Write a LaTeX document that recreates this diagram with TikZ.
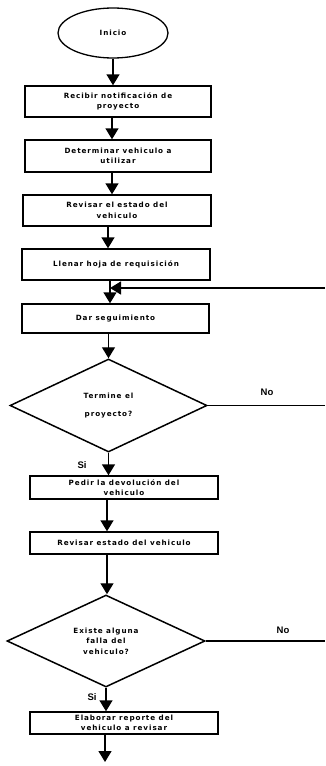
\documentclass[tikz,border=0pt]{standalone}
\usepackage{fontspec}
\setmainfont{Liberation Sans}
\newfontfamily\boxfont{DejaVu Sans}[LetterSpace=13]
\usetikzlibrary{shapes.geometric,arrows.meta}

\tikzset{
  txt/.style={font=\boxfont\bfseries\fontsize{7.2}{10.5}\selectfont},
  stepbox/.style={draw, rectangle, line width=1.4pt, align=center, inner sep=0pt, txt},
  startnode/.style={draw, ellipse, line width=1.3pt, inner sep=0pt,
    minimum width=110pt, minimum height=50pt, txt},
  decision/.style={draw, diamond, line width=1.5pt, align=center, inner sep=0pt, txt},
  flow/.style={line width=1.4pt, -{Triangle[length=11pt,width=13pt]}},
  plain/.style={line width=1.4pt},
  tag/.style={font=\bfseries\fontsize{9.5}{10}\selectfont, inner sep=0pt}
}

\begin{document}
\begin{tikzpicture}[x=1pt,y=-1pt]
\useasboundingbox (0,0) rectangle (325,766);

% start
\node[startnode] (ini) at (113,33) {Inicio};

% process steps, upper part
\node[stepbox, minimum width=186pt, minimum height=31pt] (b1) at (118,101.5)
  {Recibir notificación de\\proyecto};
\node[stepbox, minimum width=186pt, minimum height=32pt] (b2) at (118,156)
  {Determinar vehiculo a\\utilizar};
\node[stepbox, minimum width=188pt, minimum height=31pt] (b3) at (117,210.5)
  {Revisar el estado del\\vehiculo};
\node[stepbox, minimum width=188pt, minimum height=31pt] (b4) at (116,264.5)
  {Llenar hoja de requisición};
\node[stepbox, minimum width=187pt, minimum height=29pt] (b5) at (115.5,318.5)
  {Dar seguimiento};

% first decision
\node[decision, minimum width=197pt, minimum height=93pt] (d1) at (108.5,405.5)
  {Termine el\\[7pt]proyecto?};

% process steps, lower part
\node[stepbox, minimum width=188pt, minimum height=23pt] (b6) at (124,487.5)
  {Pedir la devolución del\\vehiculo};
\node[stepbox, minimum width=188pt, minimum height=22pt] (b7) at (124,543)
  {Revisar estado del vehiculo};

% second decision
\node[decision, minimum width=198pt, minimum height=92pt] (d2) at (106,641)
  {Existe alguna\\falla del\\vehiculo?};

\node[stepbox, minimum width=188pt, minimum height=22pt] (b8) at (124,723)
  {Elaborar reporte del\\vehiculo a revisar};

% columns the connectors run along
\coordinate (c2) at (112,0);
\coordinate (c4) at (108,0);
\coordinate (c5) at (107,0);

% loop-back entry and page-edge ends
\coordinate (back) at (325,288);
\coordinate (join) at (110,288);
\coordinate (end) at (105,762);

% connectors
\draw[flow] (ini.south) -- (b1.north -| ini.south);
\draw[flow] (b1.south -| c2) -- (b2.north -| c2);
\draw[flow] (b2.south -| c2) -- (b3.north -| c2);
\draw[flow] (b3.south -| c4) -- (b4.north -| c4);
\draw[flow] (b4.south -| join) -- (b5.north -| join);
\draw[flow] (back) -- (join);
\draw[flow] (b5.south -| d1.north) -- (d1.north);
\draw[flow] (d1.south) -- (b6.north -| d1.south);
\draw[flow] (b6.south -| c5) -- (b7.north -| c5);
\draw[flow] (b7.south -| c5) -- (d2.north -| c5);
\draw[flow] (d2.south) -- (b8.north -| d2.south);
\draw[flow] (b8.south -| end) -- (end);

% "No" branches leaving to the right
\draw[plain] (d1.east) -- (d1.east -| back);
\draw[plain] (d2.east) -- (d2.east -| back);

% branch labels
\node[tag] (no1) at (267,392) {No};
\node[tag] (si1) at (82,465) {Si};
\node[tag] (no2) at (283,630) {No};
\node[tag] (si2) at (92,697) {Si};
\end{tikzpicture}
\end{document}
